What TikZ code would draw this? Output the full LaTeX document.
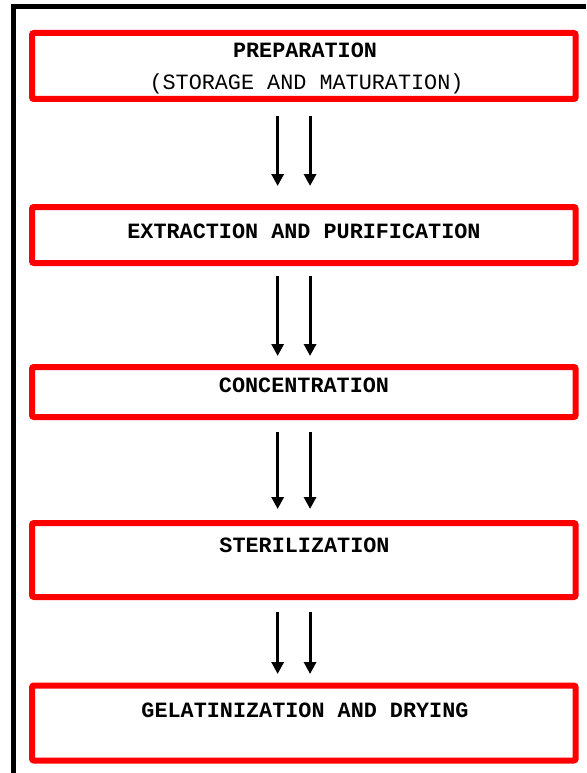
\documentclass[tikz,border=0pt]{standalone}
\usepackage{fontspec}
\newfontfamily\monofam{Liberation Mono}
\usetikzlibrary{arrows.meta}
\tikzset{
  stagebox/.style={draw=red, line width=6pt, rounded corners=2pt, outer sep=0pt, inner sep=0pt, minimum width=543.7pt},
  stagelabel/.style={anchor=base, inner sep=0pt, font=\monofam\bfseries\fontsize{21.8}{24}\selectfont},
  sublabel/.style={anchor=base, inner sep=0pt, font=\monofam\fontsize{21.8}{24}\selectfont},
  flow/.style={line width=3pt, -{Triangle[width=12pt,length=12pt]}}
}
\begin{document}
\begin{tikzpicture}[x=1pt,y=-1pt]
\useasboundingbox (0,0) rectangle (586,773);
% frame
\draw[line width=5pt, line join=miter] (13.5,773) -- (13.5,6.7) -- (586,6.7);
% boxes
\node[stagebox, minimum height=66pt] (b1) at (303.85,66) {};
\node[stagebox, minimum height=56pt] (b2) at (303.85,235) {};
\node[stagebox, minimum height=50pt] (b3) at (303.85,392) {};
\node[stagebox, minimum height=74pt] (b4) at (303.85,560) {};
\node[stagebox, minimum height=75pt] (b5) at (303.85,723) {};
% labels
\node[stagelabel] (t1) at (305,58) {PREPARATION};
\node[sublabel] (t1b) at (306.5,90) {(STORAGE AND MATURATION)};
\node[stagelabel] (t2) at (304,238) {EXTRACTION AND PURIFICATION};
\node[stagelabel] (t3) at (304,392.5) {CONCENTRATION};
\node[stagelabel] (t4) at (304.5,552) {STERILIZATION};
\node[stagelabel] (t5) at (305,717) {GELATINIZATION AND DRYING};
% arrows
\foreach \dx in {-26.2,6.2}{
  \draw[flow] ([xshift=\dx pt,yshift=-17pt]b1.south) -- ([xshift=\dx pt,yshift=21pt]b2.north);
  \draw[flow] ([xshift=\dx pt,yshift=-13pt]b2.south) -- ([xshift=\dx pt,yshift=11pt]b3.north);
  \draw[flow] ([xshift=\dx pt,yshift=-15pt]b3.south) -- ([xshift=\dx pt,yshift=14pt]b4.north);
  \draw[flow] ([xshift=\dx pt,yshift=-15pt]b4.south) -- ([xshift=\dx pt,yshift=11.5pt]b5.north);
}
\end{tikzpicture}
\end{document}
